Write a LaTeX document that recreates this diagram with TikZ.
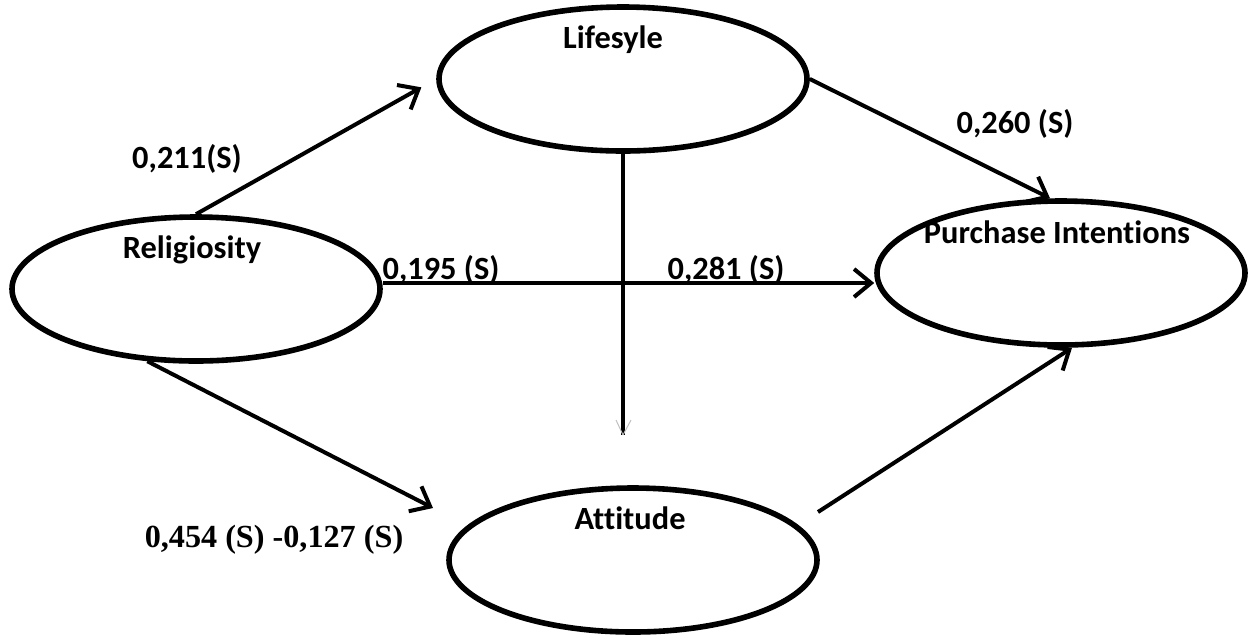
\documentclass[tikz,border=0pt]{standalone}
\usepackage{fontspec}
\setmainfont{Carlito}[Ligatures=CommonOff]
\newfontfamily\timesbf{Liberation Serif}
\usetikzlibrary{shapes.geometric,arrows.meta}
\begin{document}
\begin{tikzpicture}[x=0.5pt,y=-0.5pt,
  latent/.style={draw,ellipse,line width=2.8pt,minimum width=184pt,minimum height=72pt,inner sep=0pt},
  conn/.style={line width=2pt},
  arr/.style={conn,-{Straight Barb[length=8.5pt,width=14pt]}},
  lbl/.style={font=\bfseries\fontsize{16.2}{19}\selectfont,anchor=base,inner sep=0pt},
  serlbl/.style={lbl,font=\timesbf\bfseries\fontsize{16.1}{19}\selectfont},
  faint/.style={draw=black!25,line width=0.5pt}
]
\useasboundingbox (0,0) rectangle (1252,634);
% latent variables
\node[latent] (rel)  at (196,289) {};
\node[latent] (life) at (623,79) {};
\node[latent] (pi)   at (1061,273) {};
\node[latent] (att)  at (633,560) {};
% free ends
\coordinate (hs) at ([yshift=3pt]rel.east);
\coordinate (vend) at (623,435);
\coordinate (atip) at (433,508);
\coordinate (as) at (818,512);
% connectors
\draw[arr,shorten >=8.5pt] (rel.north) -- (life.west);
\draw[arr] (life.east) -- ([xshift=-5.5pt]pi.north);
\draw[arr] (hs) -- (hs -| pi.west);
\draw[conn] (life.south) -- (vend);
\draw[faint] (vend) -- ++(-7,-15) (vend) -- ++(8,-15);
\draw[arr] (rel.236) -- (atip);
\draw[arr] (as) -- ([xshift=5.5pt]pi.south);
% texts
\node[lbl] (trel)  at (192,258) {Religiosity};
\node[lbl] (tlife) at (613,48) {Lifesyle};
\node[lbl] (tpi)   at (1057,243) {Purchase Intentions};
\node[lbl] (tatt)  at (630,529) {Attitude};
\node[lbl] (l211) at (187,168) {0,211(S)};
\node[lbl] (l260) at (1015,133) {0,260 (S)};
\node[lbl] (l195) at (441,279.5) {0,195 (S)};
\node[lbl] (l281) at (726,279.5) {0,281 (S)};
\node[serlbl] (l454) at (274,547) {0,454 (S) -0,127 (S)};
\end{tikzpicture}
\end{document}
